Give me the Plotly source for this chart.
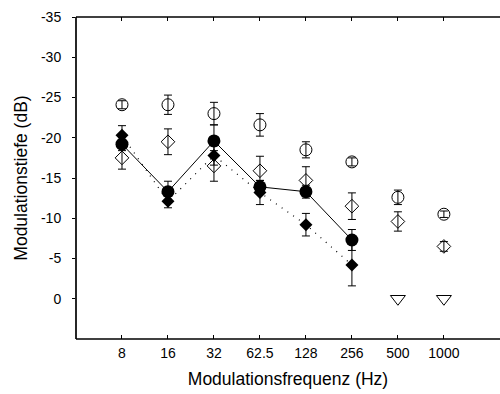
import plotly.graph_objects as go

freq_labels = ["8", "16", "32", "62.5", "128", "256", "500", "1000"]
x_idx = list(range(len(freq_labels)))

# open circles
oc_y = [-24.1, -24.1, -23.0, -21.6, -18.5, -17.0, -12.6, -10.5]
oc_e = [0.5, 1.2, 1.4, 1.4, 1.0, 0.5, 0.9, 0.4]
# open diamonds
od_y = [-17.5, -19.5, -16.5, -15.9, -14.7, -11.5, -9.6, -6.5]
od_e = [1.4, 1.6, 1.9, 1.8, 1.7, 1.65, 1.2, 0.6]
# filled circles (solid line)
fc_y = [-19.2, -13.3, -19.6, -13.9, -13.3, -7.3]
fc_e = [0.8, 1.3, 2.0, 0.8, 0.8, 1.3]
# filled diamonds (dotted line)
fd_y = [-20.3, -12.1, -17.8, -13.2, -9.2, -4.2]
fd_e = [1.2, 0.8, 1.2, 1.5, 1.4, 2.6]
# open triangles (below threshold)
tri_x = [6, 7]
tri_y = [0, 0]

y_ticks = [-35, -30, -25, -20, -15, -10, -5, 0]

font = "Liberation Sans, Arial, Helvetica, sans-serif"
fig = go.Figure()

eb = lambda arr: dict(type="data", array=arr, visible=True, color="black", thickness=1, width=4)

fig.add_trace(go.Scatter(x=x_idx[:6], y=fd_y, mode="lines+markers",
                         line=dict(color="black", width=1.2, dash="1px,6px"),
                         marker=dict(symbol="diamond", size=10, color="black"),
                         error_y=eb(fd_e)))
fig.add_trace(go.Scatter(x=x_idx[:6], y=fc_y, mode="lines+markers",
                         line=dict(color="black", width=1),
                         marker=dict(symbol="circle", size=13, color="black"),
                         error_y=eb(fc_e)))
fig.add_trace(go.Scatter(x=x_idx, y=od_y, mode="markers",
                         marker=dict(symbol="diamond-open", size=10.5, color="black",
                                     line=dict(width=1, color="black")),
                         error_y=eb(od_e)))
fig.add_trace(go.Scatter(x=x_idx, y=oc_y, mode="markers",
                         marker=dict(symbol="circle-open", size=12, color="black",
                                     line=dict(width=1, color="black")),
                         error_y=eb(oc_e)))
fig.add_trace(go.Scatter(x=tri_x, y=tri_y, mode="markers",
                         marker=dict(symbol="triangle-down-open", size=13, color="black",
                                     line=dict(width=1, color="black"))))

axis_line = dict(color="black", width=1.7)
fig.update_layout(
    width=500, height=394,
    margin=dict(l=76, r=0, t=17, b=55, autoexpand=False),
    paper_bgcolor="white", plot_bgcolor="white",
    showlegend=False,
    font=dict(family=font, size=14, color="black"),
    xaxis=dict(range=[-1, 8.22], tickvals=x_idx, ticktext=freq_labels,
               showgrid=False, zeroline=False, showline=False,
               mirror="ticks", ticks="inside", ticklen=4,
               tickcolor="black", tickwidth=1, ticklabelstandoff=4, automargin=False,
               title=dict(text="Modulationsfrequenz (Hz)", font=dict(size=17.5), standoff=12)),
    yaxis=dict(range=[5, -35], tickvals=y_ticks, ticktext=[str(v) for v in y_ticks],
               showgrid=False, zeroline=False, showline=False,
               ticks="outside", ticklen=3, tickcolor="black", tickwidth=1,
               mirror=False, ticklabelstandoff=8, automargin=False,
               title=dict(text="Modulationstiefe (dB)", font=dict(size=17.5), standoff=8)),
    shapes=[
        dict(type="line", xref="paper", yref="paper", x0=0, x1=1, y0=0, y1=0, line=axis_line),
        dict(type="line", xref="paper", yref="paper", x0=0, x1=1, y0=1, y1=1, line=axis_line),
        dict(type="line", xref="paper", yref="paper", x0=0, x1=0, y0=0, y1=1, line=axis_line),
    ],
)

fig.write_html("out.html", config={"displayModeBar": False})
